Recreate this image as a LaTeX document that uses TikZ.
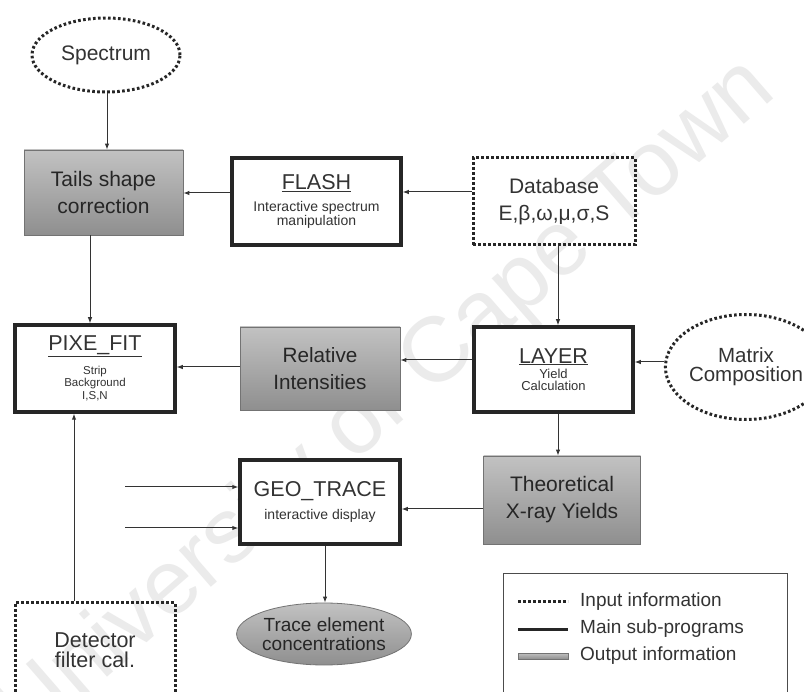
\documentclass[tikz,border=0pt]{standalone}
\usepackage{fontspec}
\setmainfont{Liberation Sans}
\usetikzlibrary{arrows.meta,shapes.geometric}
\newcommand{\subsz}{\fontsize{14}{14}\selectfont}
\newcommand{\tinysz}{\fontsize{11.5}{11}\selectfont}
\newcommand{\midsz}{\fontsize{13}{13}\selectfont}
\newcommand{\lift}[1]{\rule{0pt}{#1}}
\begin{document}
\begin{tikzpicture}[x=1pt,y=-1pt,
  every node/.style={align=center,inner sep=0pt,text=black!80},
  inputbox/.style={draw=black!85,line width=3pt,dash pattern=on 2.6pt off 2.4pt},
  mainbox/.style={draw=black!85,line width=3.5pt,fill=white,font=\fontsize{21.5}{8}\selectfont},
  outbox/.style={draw=black!55,line width=0.8pt,top color=black!24,bottom color=black!44},
  arr/.style={draw=black!80,line width=1pt,-{Latex[length=6pt,width=4.5pt]}},
  big/.style={font=\fontsize{21}{27}\selectfont}]
\useasboundingbox (0,0) rectangle (804,692);
\fill[white] (0,0) rectangle (804,692);
% watermark
\node[rotate=41,text=black!8,font=\fontsize{92}{92}\selectfont] (wm) at (388,402) {University of Cape Town};

% input information
\node[inputbox,ellipse,minimum width=148pt,minimum height=74pt,big] (spec) at (106,55) {Spectrum};
\node[inputbox,rectangle,minimum width=162pt,minimum height=87pt,big] (db) at (554,201.5) {Database\\E,β,ω,μ,σ,S};
\node[inputbox,ellipse,minimum width=126pt,minimum height=105pt,font=\fontsize{20.5}{19}\selectfont] (matrix) at (746,367) {Matrix\\Composition};
\node[inputbox,rectangle,minimum width=160pt,minimum height=94pt,font=\fontsize{21.5}{20}\selectfont] (det) at (95,650) {Detector\\filter cal.};

% main sub-programs (title, then a smaller description)
\node[mainbox,minimum width=169pt,minimum height=87pt] (flash) at (316.5,201.5)
  {\underline{FLASH}\\\subsz\lift{19pt}Interactive spectrum\\\subsz manipulation};
\node[mainbox,minimum width=160pt,minimum height=87pt] (pixe) at (95,368.5)
  {\underline{PIXE\_FIT}\\\tinysz\lift{16pt}Strip\\[1pt]\tinysz Background\\[1pt]\tinysz I,S,N};
\node[mainbox,minimum width=159pt,minimum height=85pt] (layer) at (553.5,369.5)
  {\underline{LAYER}\\\midsz\lift{12pt}Yield\\\midsz\lift{11pt}Calculation};
\node[mainbox,minimum width=160pt,minimum height=84pt] (geo) at (320,502)
  {GEO\_TRACE\\\subsz\lift{18pt}interactive display};

% output information
\node[outbox,rectangle,minimum width=159pt,minimum height=85pt,big,text=black!85] (tails) at (103.5,192.5) {Tails shape\\correction};
\node[outbox,rectangle,minimum width=160pt,minimum height=83pt,font=\fontsize{20.7}{27}\selectfont,text=black!85] (rel) at (320,368.5) {Relative\\Intensities};
\node[outbox,rectangle,minimum width=157pt,minimum height=88pt,big,text=black!85] (theo) at (562,500) {Theoretical\\X-ray Yields};
\node[outbox,ellipse,minimum width=166pt,minimum height=62pt,font=\fontsize{19}{19}\selectfont,text=black!85] (trace) at (324,634) {Trace element\\concentrations};

% connectors
\draw[arr] (spec.south -| 107,0) -- (tails.north -| 107,0);
\draw[arr] (db.west |- 0,192) -- (flash.east |- 0,192);
\draw[arr] (flash.west |- 0,193) -- (tails.east |- 0,193);
\draw[arr] (tails.south -| 90,0) -- (pixe.north -| 90,0);
\draw[arr] (rel.west |- 0,367) -- (pixe.east |- 0,367);
\draw[arr] (layer.west |- 0,360) -- (rel.east |- 0,360);
\draw[arr] (matrix.west |- 0,362) -- (layer.east |- 0,362);
\draw[arr] (db.south -| 558,0) -- (layer.north -| 558,0);
\draw[arr] (layer.south -| 558,0) -- (theo.north -| 558,0);
\draw[arr] (theo.west |- 0,509) -- (geo.east |- 0,509);
\draw[arr] (geo.south -| 325,0) -- (trace.north -| 325,0);
\draw[arr] (det.north -| 74,0) -- (pixe.south -| 74,0);
\coordinate (inA) at (125,487);
\coordinate (inB) at (125,528);
\draw[arr] (inA) -- (geo.west |- inA);
\draw[arr] (inB) -- (geo.west |- inB);

% legend
\node[draw=black!70,line width=0.8pt,rectangle,minimum width=284pt,minimum height=130pt] (legend) at (645,638) {};
\coordinate (la1) at (518,602); \coordinate (la2) at (568,602);
\coordinate (lb1) at (518,629); \coordinate (lb2) at (568,629);
\draw[draw=black!85,line width=3pt,dash pattern=on 2.6pt off 2.4pt] (la1) -- (la2);
\draw[draw=black!85,line width=3pt] (lb1) -- (lb2);
\node[outbox,rectangle,minimum width=50pt,minimum height=6pt,line width=0.8pt] (lc) at (543,656) {};
\node[anchor=west,font=\fontsize{19}{21}\selectfont] (lta) at (580,602) {Input information};
\node[anchor=west,font=\fontsize{19}{21}\selectfont] (ltb) at (580,629) {Main sub-programs};
\node[anchor=west,font=\fontsize{19}{21}\selectfont] (ltc) at (580,656) {Output information};
\end{tikzpicture}
\end{document}
